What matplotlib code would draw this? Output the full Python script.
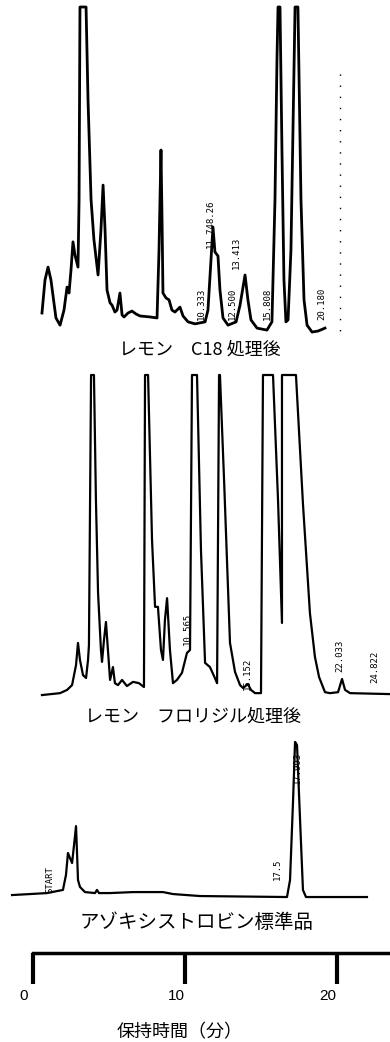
import matplotlib as mpl
mpl.use('Agg')
import matplotlib.pyplot as plt
from matplotlib.transforms import ScaledTranslation

plt.rcParams['font.family'] = ['Noto Sans CJK JP', 'DejaVu Sans']

# traces: retention time (min) and detector signal (% of full scale)
c18_time = [0.59, 0.79, 0.99, 1.18, 1.51, 1.78, 2.04, 2.24, 2.37, 2.50, 2.63, 2.76, 2.96,
            3.03, 3.09, 3.49, 3.62, 3.82, 4.01, 4.28, 4.47, 4.61, 4.74, 4.87, 5.07, 5.20,
            5.39, 5.53, 5.72, 5.86, 5.99, 6.25, 6.51, 6.78, 7.04, 7.70, 8.16, 8.29, 8.42,
            8.49, 8.55, 8.75, 8.95, 9.14, 9.34, 9.67, 9.87, 10.20, 10.66, 11.32, 11.51,
            11.71, 11.84, 11.97, 12.17, 12.30, 12.50, 12.83, 13.36, 13.62, 13.95, 14.14,
            14.34, 14.74, 15.39, 15.72, 15.92, 16.05, 16.12, 16.25, 16.38, 16.51, 16.64,
            16.78, 16.97, 17.24, 17.43, 17.63, 17.83, 18.03, 18.36, 18.75, 19.21]
c18_signal = [6.7, 16.8, 20.7, 16.8, 5.2, 3.0, 7.6, 14.6, 12.8, 19.8, 28.4, 24.4, 20.7,
              41.0, 100, 100, 71.6, 41.2, 29.0, 18.3, 32.0, 45.7, 32.0, 13.7, 9.8, 9.1,
              7.0, 7.6, 12.8, 6.1, 5.5, 6.7, 7.3, 6.4, 5.8, 5.5, 5.2, 25.9, 56.4,
              35.0, 12.8, 11.3, 10.7, 7.6, 7.0, 8.5, 5.8, 4.0, 3.4, 4.0, 7.6,
              22.9, 32.9, 25.3, 24.1, 13.7, 5.2, 3.0, 4.0, 9.1, 18.3, 10.7,
              4.6, 2.1, 1.5, 4.0, 41.2, 83.8, 100, 100, 56.0, 16.8, 4.0,
              4.6, 25.9, 100, 100, 41.2, 10.7, 3.0, 0.9, 1.2, 2.1]

flori_time = [0.59, 1.78, 2.24, 2.57, 2.83, 2.96, 3.09, 3.29, 3.49, 3.62, 3.68, 3.82, 4.01,
              4.14, 4.28, 4.47, 4.54, 4.67, 4.80, 4.93, 5.07, 5.26, 5.39, 5.59, 5.86, 6.18,
              6.58, 6.97, 7.30, 7.37, 7.57, 7.83, 8.03, 8.22, 8.42, 8.55, 8.68, 8.82, 9.01,
              9.21, 9.47, 9.80, 10.13, 10.33, 10.46, 10.79, 11.05, 11.32, 11.64, 11.91,
              12.11, 12.24, 12.30, 12.57, 12.96, 13.29, 13.62, 13.82, 14.14, 14.34, 14.61,
              15.00, 15.13, 15.79, 16.12, 16.38, 16.38, 17.30, 17.76, 18.22, 18.55, 18.82,
              19.21, 19.54, 20.07, 20.33, 20.53, 20.86, 23.49]
flori_signal = [0.6, 1.2, 2.2, 3.7, 9.9, 16.8, 11.5, 6.8, 5.9, 11.5, 16.1, 100, 100,
                61.2, 32.3, 14.6, 10.9, 17.7, 23.3, 14.6, 5.3, 9.3, 4.3, 3.7, 5.3, 3.4,
                4.7, 4.3, 3.1, 100, 100, 48.8, 28.0, 28.0, 14.6, 11.5, 23.9, 30.7, 14.6,
                4.3, 5.3, 7.5, 13.7, 14.6, 100, 100, 45.7, 10.6, 9.3, 6.5,
                4.3, 100, 100, 67.4, 16.8, 7.8, 3.7, 2.8, 4.0, 2.2, 1.2,
                1.2, 100, 100, 61.2, 23.0, 100, 100, 60.0, 26.0, 12.4, 6.2,
                1.5, 1.2, 1.5, 5.6, 2.2, 1.2, 0.9]

std_time = [-1.38, -0.20, 0.92, 1.97, 2.17, 2.30, 2.43, 2.57, 2.70, 2.83, 2.89, 2.96, 3.09,
            3.42, 4.08, 4.21, 4.34, 5.07, 6.58, 8.55, 9.21, 10.99, 16.71, 16.91, 17.11,
            17.24, 17.37, 17.57, 17.76, 17.96, 21.97]
std_signal = [3.0, 3.6, 4.2, 6.1, 15.2, 28.5, 25.5, 22.4, 33.3, 44.8, 30.3, 12.1, 7.9,
              4.8, 4.2, 6.1, 4.2, 4.2, 4.8, 4.8, 3.6, 2.4, 1.8, 12.1, 60.6,
              95.8, 93.9, 48.5, 6.1, 1.8, 1.8]

# peak labels printed by the integrator
c18_labels = ["10.333", "11.748.26", "12.500", "13.413", "15.808", "20.180"]
c18_label_t = [11.1, 11.7, 13.1, 13.4, 15.4, 19.0]
c18_label_s = [4.5, 26.5, 4.5, 20.0, 4.5, 4.5]
flori_labels = ["10.565", "15.152", "22.033", "24.822"]
flori_label_t = [10.13, 14.08, 20.2, 22.5]
flori_label_s = [16.0, 2.2, 7.8, 4.3]
std_labels = ["START", "17.5", "17.993"]
std_label_t = [1.12, 16.1, 17.4]
std_label_s = [4.2, 12.0, 70.0]

sample_names = ["レモン　C18 処理後", "レモン　フロリジル処理後", "アゾキシストロビン標準品"]
time_ticks = [0, 10, 20]

W, H = 390, 1042
PX_PER_MIN = 15.2
X0 = 33
tmin = -X0 / PX_PER_MIN
tmax = (W - X0) / PX_PER_MIN

fig = plt.figure(figsize=(W / 100, H / 100), dpi=100)


def panel(top, bottom):
    ax = fig.add_axes([0, 1 - bottom / H, 1, (bottom - top) / H])
    ax.set_xlim(tmin, tmax)
    ax.set_ylim(0, 100)
    ax.axis('off')
    return ax


def peak_texts(ax, labels, ts, ss):
    for lab, t, s in zip(labels, ts, ss):
        ax.text(t, s, lab, rotation=90, ha='center', va='bottom', fontsize=6.5,
                family='DejaVu Sans Mono', color='black')


# top: C18
ax1 = panel(7, 335)
ax1.plot(c18_time, c18_signal, color='black', lw=2.0, solid_joinstyle='round', clip_on=False)
peak_texts(ax1, c18_labels, c18_label_t, c18_label_s)
ax1.axvline((340 - X0) / PX_PER_MIN, ymin=-0.02, ymax=0.8, color='black', lw=1,
            linestyle=(0, (1, 7)))
fig.text(200 / W, 1 - 350 / H, sample_names[0], ha='center', va='center', fontsize=13)

# middle: florisil
ax2 = panel(375, 697)
ax2.plot(flori_time, flori_signal, color='black', lw=1.6, solid_joinstyle='round', clip_on=False)
peak_texts(ax2, flori_labels, flori_label_t, flori_label_s)
fig.text(193 / W, 1 - 717 / H, sample_names[1], ha='center', va='center', fontsize=13)

# bottom: standard
ax3 = panel(735, 900)
ax3.plot(std_time, std_signal, color='black', lw=1.6, solid_joinstyle='round', clip_on=False)
peak_texts(ax3, std_labels, std_label_t, std_label_s)
fig.text(197 / W, 1 - 923 / H, sample_names[2], ha='center', va='center', fontsize=14)

# time scale
axt = fig.add_axes([0, 1 - 953 / H, 1, 0.001])
axt.set_xlim(tmin, tmax)
for side in ['top', 'left', 'right']:
    axt.spines[side].set_visible(False)
axt.spines['bottom'].set_linewidth(2.5)
axt.spines['bottom'].set_bounds(0, tmax)
axt.set_yticks([])
axt.set_xticks(time_ticks)
axt.set_xticklabels([str(t) for t in time_ticks], fontsize=11, family='Liberation Sans')
axt.tick_params(axis='x', direction='out', length=22, width=3, pad=4)
for lab in axt.get_xticklabels():
    lab.set_transform(lab.get_transform() + ScaledTranslation(-0.09, 0, fig.dpi_scale_trans))
fig.text(180 / W, 1 - 1032 / H, "保持時間（分）", ha='center', va='center', fontsize=13)

fig.savefig("out.png", dpi=100)
